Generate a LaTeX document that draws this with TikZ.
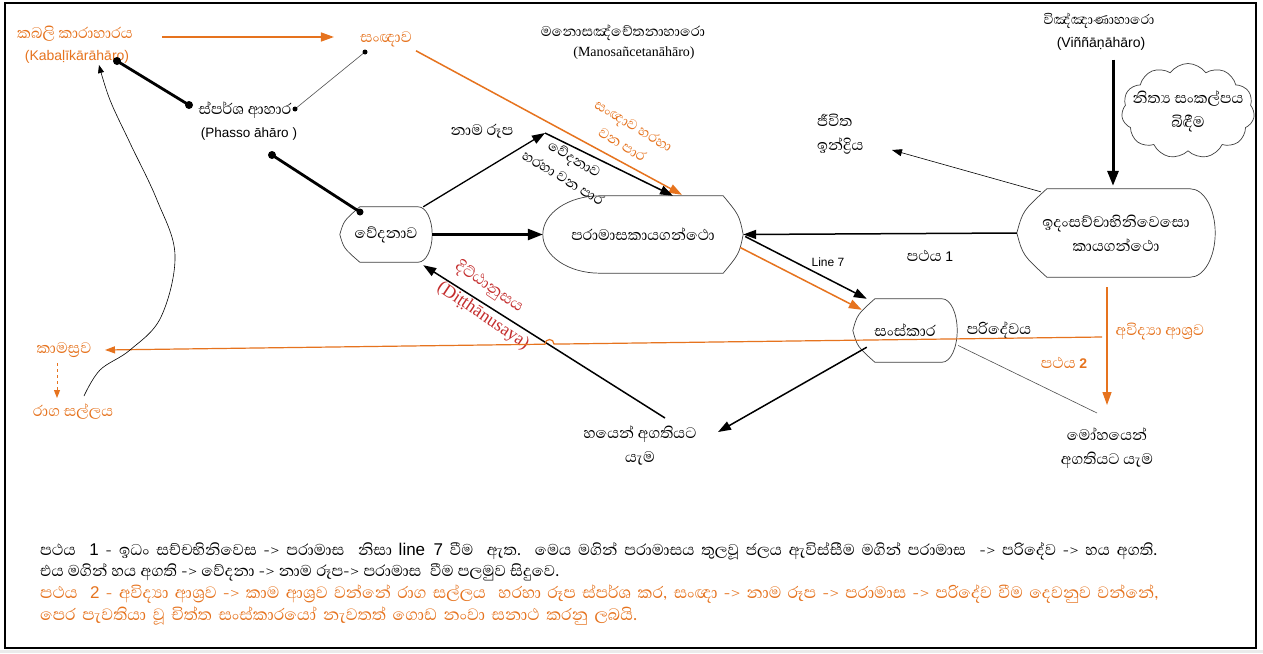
\documentclass[tikz,border=0pt]{standalone}
\usepackage{fontspec}
\setmainfont[Script=Sinhala]{Abhaya Libre}
\newfontfamily\lsans{Liberation Sans}
\newfontfamily\lserif{Liberation Serif}
\newcommand\bignumfont{\lsans\fontsize{17}{19}\selectfont}
\usetikzlibrary{arrows.meta,calc,shapes.symbols}
\definecolor{orng}{RGB}{230,115,30}
\definecolor{dred}{RGB}{196,45,45}
\definecolor{lgray}{RGB}{80,80,80}
\tikzset{
  lbl/.style={inner sep=1pt, font=\fontsize{19.5}{24}\selectfont, align=center},
  olbl/.style={lbl, text=orng},
  shp/.style={draw=black!75, line width=0.7pt},
  box/.style={inner sep=0pt, font=\fontsize{19.5}{24}\selectfont, align=center},
  tipL/.style={-{Triangle[length=15pt,width=11pt]}},
  tipM/.style={-{Triangle[length=13pt,width=9pt]}},
  tipS/.style={-{Triangle[length=10pt,width=7pt]}},
  tipXS/.style={-{Triangle[length=8pt,width=6pt]}},
  blk/.style={draw=black, line width=1.5pt},
  org/.style={draw=orng, line width=1.5pt},
  bigdot/.style={fill=black, circle, inner sep=0pt, minimum size=8pt},
  smalldot/.style={fill=black, circle, inner sep=0pt, minimum size=5pt},
  expl/.style={anchor=west, inner sep=0pt},
}
% pointed left side (inset #2), round right side (inset #3)
\newcommand\shpPR[3]{%
  \draw[shp] ($(#1.north west)+(#2,0)$) -- ($(#1.north east)+(-#3,0)$)
   .. controls ($(#1.north east)+(-0.448*#3,0)$) and ($(#1.east)!0.552!(#1.north east)$) .. (#1.east)
   .. controls ($(#1.east)!0.552!(#1.south east)$) and ($(#1.south east)+(-0.448*#3,0)$) .. ($(#1.south east)+(-#3,0)$)
   -- ($(#1.south west)+(#2,0)$)
   .. controls ($(#1.west)!0.5!(#1.south west)+(0.2*#2,0)$) .. (#1.west)
   .. controls ($(#1.west)!0.5!(#1.north west)+(0.2*#2,0)$) .. ($(#1.north west)+(#2,0)$) -- cycle;}
% round left side (inset #2), pointed right side (inset #3)
\newcommand\shpRP[3]{%
  \draw[shp] ($(#1.north west)+(#2,0)$) -- ($(#1.north east)+(-#3,0)$)
   .. controls ($(#1.east)!0.5!(#1.north east)+(-0.2*#3,0)$) .. (#1.east)
   .. controls ($(#1.east)!0.5!(#1.south east)+(-0.2*#3,0)$) .. ($(#1.south east)+(-#3,0)$)
   -- ($(#1.south west)+(#2,0)$)
   .. controls ($(#1.south west)+(0.448*#2,0)$) and ($(#1.west)!0.552!(#1.south west)$) .. (#1.west)
   .. controls ($(#1.west)!0.552!(#1.north west)$) and ($(#1.north west)+(0.448*#2,0)$) .. ($(#1.north west)+(#2,0)$) -- cycle;}
\begin{document}
\begin{tikzpicture}[x=1pt,y=-1pt]
\useasboundingbox (0,0) rectangle (1263,653);
\fill[white] (0,0) rectangle (1263,653);
\fill[black!8] (0,650) rectangle (1263,653);
\draw[line width=2.5pt] (5,3) rectangle (1256,648);

% ---- shaped nodes ----
\node[box, minimum width=92pt, minimum height=55pt] (ved) at (386,234.5) {වේදනාව};
\shpPR{ved}{20}{14}
\node[box, minimum width=200pt, minimum height=77pt] (par) at (643,234.5) {පරාමාසකායගන්ථො};
\shpRP{par}{57}{20}
\node[box, minimum width=198pt, minimum height=88pt] (idam) at (1116,233) {ඉදංසච්චාභිනිවෙසො\\කායගන්ථො};
\shpPR{idam}{30}{25}
\node[box, minimum width=104pt, minimum height=63pt] (sank) at (905,330.5) {සංස්කාර};
\shpPR{sank}{22}{15}

% ---- text nodes ----
\node[olbl] (kab) at (75,34) {කබලි කාරාහාරය};
\node[olbl, font=\lsans\fontsize{14}{16}\selectfont] (kabL) at (77,57) {(Kabaḷīkārāhāro)};
\node[olbl] (sanna) at (386,39) {සංඥාව};
\node[lbl, font=\fontsize{18}{22}\selectfont] (mano) at (623,33) {මනොසඤ්චේතනාහාරො};
\node[lbl, font=\lserif\fontsize{14}{16}\selectfont] (manoL) at (634,53) {(Manosañcetanāhāro)};
\node[lbl] (phassa) at (245,110) {ස්පර්ශ ආහාර};
\node[lbl, font=\lsans\fontsize{13.5}{16}\selectfont] (phassaL) at (249,134) {(Phasso āhāro )};
\node[lbl] (namarupa) at (482,131) {නාම රූප};
\node[lbl, align=left, anchor=west] (jiv) at (816,134) {ජීවිත\\ඉන්ද්‍රිය};
\node[lbl, font=\fontsize{17.5}{21}\selectfont] (vinn) at (1099,21) {විඤ්ඤාණාහාරො};
\node[lbl, font=\lsans\fontsize{14}{17}\selectfont] (vinnL) at (1101,44) {(Viññāṇāhāro)};
\node[cloud, cloud puffs=11, cloud puff arc=110, aspect=1.4, draw=black!75, line width=0.7pt,
      minimum width=133pt, minimum height=95pt, inner sep=0pt] (cloud) at (1188,111) {};
\node[lbl] (cloudtxt) at (cloud.center) {නිත්‍ය සංකල්පය\\බිඳීම};
\node[lbl] (patha1) at (930,256) {පථය {\lsans\fontsize{14}{16}\selectfont 1}};
\node[lbl, font=\lsans\fontsize{12}{14}\selectfont] (line7) at (828,262) {Line 7};
\node[lbl] (pari) at (999,330) {පරිදේවය};
\node[olbl] (avidya) at (1160,332) {අවිද්‍යා ආශ්‍රව};
\node[olbl] (patha2) at (1064,363) {පථය {\lsans\bfseries\fontsize{14}{16}\selectfont 2}};
\node[olbl] (kama) at (64,350) {කාමස්‍රව};
\node[olbl] (raga) at (73,412) {රාග සල්ලය};
\node[lbl] (haye) at (640,446) {හයෙන් අගතියට\\යැම};
\node[lbl] (moha) at (1107,448) {මෝහයෙන්\\අගතියට යැම};
\node[lbl, text=dred, rotate=-34, font=\fontsize{20}{24}\selectfont] (ditt) at (489,287) {දිට්ඨානුසය};
\node[lbl, text=dred, rotate=-34, font=\lserif\fontsize{18}{21}\selectfont] (dittL) at (483,316) {(Diṭṭhānusaya)};
\node[olbl, rotate=-31, font=\fontsize{18}{22}\selectfont] (sannalbl) at (628,135) {සංඥාව හරහා\\වන පාර};
\node[lbl, rotate=-31, font=\fontsize{18}{22}\selectfont] (vedlbl) at (569,168) {වේදනාව\\හරහා වන පාර};

% ---- coordinates ----
\coordinate (nr) at (545,133);
\coordinate (d1) at (117,61);
\coordinate (d2) at (189,105);
\coordinate (d3) at (295,109);
\coordinate (d4) at (365,52);
\coordinate (d5) at (272,155);
\coordinate (d6) at (360,212);
\coordinate (jivtip) at (892,150);
\coordinate (hayetip) at (718,432);
\coordinate (hayestart) at (665,418);
\coordinate (mohaend) at (1097,413);
\coordinate (avtop) at (1107,287);
\coordinate (avtip) at (1107,405);
\coordinate (orR) at (1102,337);
\coordinate (kamatip) at (105,350);
\coordinate (kabtip) at (99,65);
\coordinate (ragastart) at (84,396);

% ---- dotted-end connectors ----
\draw[line width=2.8pt] (d1) -- (d2);
\node[bigdot] at (d1) {}; \node[bigdot] at (d2) {};
\draw[line width=0.6pt, lgray] (d3) -- (d4);
\node[smalldot] at (d3) {}; \node[smalldot] at (d4) {};
\draw[line width=2.8pt] (d5) -- (d6);
\node[bigdot] at (d5) {}; \node[smalldot, minimum size=7pt] at (d6) {};

% ---- arrows ----
\draw[org, tipM] ($(kab.east)+(28,3)$) -- ($(sanna.west)+(-25,-2)$);
\draw[org, tipM] ($(sanna.south east)+(3,3)$) -- ($(par.north)+(39,-1)$);
\draw[blk, line width=1.3pt, tipM] ($(ved.north east)+(-9,0)$) -- (nr);
\draw[blk, tipM] (nr) -- ($(par.north)+(30,0)$);
\draw[blk, line width=2.5pt, tipL] (ved.east) -- (par.west);
\draw[blk, tipM] (idam.west) -- (par.east);
\draw[line width=0.6pt, tipS] ($(idam.north west)+(24,3)$) -- (jivtip);
\draw[line width=3pt, tipL] ($(vinnL.south)+(12,8)$) -- ($(idam.north)+(-3,-3)$);
\draw[blk, tipM] ($(par.east)+(2,2)$) -- ($(sank.north west)+(14,0)$);
\draw[org, tipM] ($(par.east)+(-3,13)$) -- ($(sank.north west)+(9,11)$);
\draw[blk, tipM] ($(sank.south west)+(14,-15)$) -- (hayetip);
\draw[blk, tipM] (hayestart) -- ($(ved.south east)+(-9,3)$);
\draw[line width=0.6pt, lgray] ($(sank.east)+(1,15)$) -- (mohaend);
\draw[org, line width=1.3pt, tipM] (avtop) -- (avtip);
\draw[orng, line width=1.2pt, tipS] (orR) -- (554,344.1) .. controls (554,338) and (545,338) .. (545,344.2) -- (kamatip);
\draw[orng, line width=1pt, dashed, tipXS] (57,363) -- (57,398);
\draw[line width=0.6pt, tipXS] plot[smooth, tension=0.6] coordinates {(ragastart) (100,370) (130,350) (161,317) (175,255) (157,200) (130,143) (110,100) (kabtip)};

% ---- explanation text ----
\node[expl, font=\fontsize{20}{24}\selectfont] (t1) at (40,551) {\hbox to 1117pt{පථය\ \ {\bignumfont 1} - ඉධං සච්චභිනිවෙස -> පරාමාස\ \ නිසා {\bignumfont line 7} වීම\ \ ඇත. මෙය මගින් පරාමාසය තුලවූ ජලය ඇවිස්සීම මගින් පරාමාස\ \ -> පරිදේව -> හය අගති.}};
\node[expl, font=\fontsize{20}{24}\selectfont] (t2) at (40,572) {\hbox to 519pt{එය මගින් හය අගති -> වේදනා -> නාම රූප-> පරාමාස\ \ වීම පලමුව සිදුවෙ.}};
\node[expl, text=orng, font=\fontsize{21}{24}\selectfont] (t3) at (40,594) {\hbox to 1118pt{පථය\ \ {\bignumfont 2}\ - අවිද්‍යා ආශ්‍රව -> කාම ආශ්‍රව වන්නේ රාග සල්ලය\ \ හරහා රූප ස්පර්ශ කර, සංඥා -> නාම රූප -> පරාමාස -> පරිදේව වීම දෙවනුව වන්නේ,}};
\node[expl, text=orng, font=\fontsize{21}{24}\selectfont] (t4) at (40,616) {\hbox to 597pt{පෙර පැවතියා වූ චිත්ත සංස්කාරයෝ නැවතත් ගොඩ නංවා සනාථ කරනු ලබයි.}};
\end{tikzpicture}
\end{document}
